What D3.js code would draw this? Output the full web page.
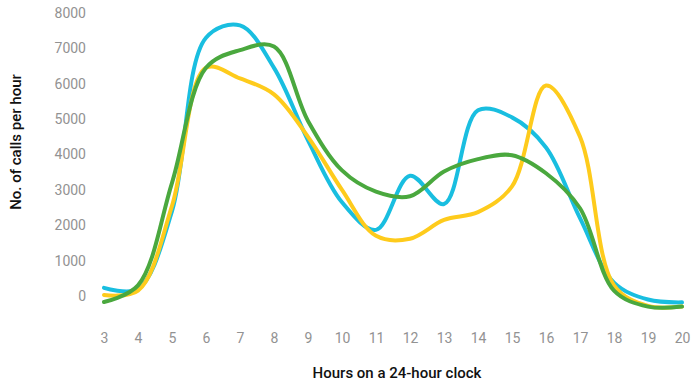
<!DOCTYPE html>
<html><head><meta charset="utf-8">
<script src="https://cdn.jsdelivr.net/npm/d3@7"></script>
<style>body{margin:0;background:#fff}svg{display:block}</style>
</head><body>
<svg id="c" width="691" height="383"></svg>
<script>
const hours = [3,4,5,6,7,8,9,10,11,12,13,14,15,16,17,18,19,20];
const cyanSeries   = [230, 200, 2400, 7300, 7650, 6450, 4400, 2650, 1870, 3400, 2600, 5250, 5050, 4200, 2200, 380, -100, -180];
const greenSeries  = [-170, 300, 3200, 6450, 6950, 7050, 4950, 3550, 2950, 2820, 3520, 3870, 3980, 3470, 2480, 150, -300, -300];
const yellowSeries = [30, 150, 2550, 6450, 6150, 5700, 4500, 3000, 1700, 1620, 2150, 2370, 3100, 5950, 4500, 300, -280, -300];
const yTicks = [0,1000,2000,3000,4000,5000,6000,7000,8000];
const seriesList = [
  {name:"cyan", values: cyanSeries, color:"#19bee0"},
  {name:"yellow", values: yellowSeries, color:"#fecb1c"},
  {name:"green", values: greenSeries, color:"#4aa83e"}
];

const svg = d3.select("#c");
const x = d3.scaleLinear().domain([3,20]).range([104,682]);
const y = d3.scaleLinear().domain([0,8000]).range([296,13]);
const font = "Roboto, 'Liberation Sans', sans-serif";

const yAxis = d3.axisLeft(y).tickValues(yTicks).tickSize(0).tickPadding(0).tickFormat(d3.format("d"));
const gy = svg.append("g").attr("transform","translate(86,0)").call(yAxis);
gy.select(".domain").remove();
gy.selectAll("text").attr("fill","#929292").style("font-family",font).style("font-size","14px");

const xAxis = d3.axisBottom(x).tickValues(hours).tickSize(0).tickPadding(0).tickFormat(d3.format("d"));
const gx = svg.append("g").attr("transform","translate(0,333)").call(xAxis);
gx.select(".domain").remove();
gx.selectAll("text").attr("fill","#929292").style("font-family",font).style("font-size","14px");

const line = d3.line().x((d,i)=>x(hours[i])).y(d=>y(d)).curve(d3.curveCatmullRom.alpha(0.5));
svg.append("g").selectAll("path").data(seriesList).join("path")
  .attr("d", s=>line(s.values)).attr("fill","none").attr("stroke",s=>s.color)
  .attr("stroke-width",4).attr("stroke-linecap","round").attr("stroke-linejoin","round");

svg.append("text").attr("x",397).attr("y",378).attr("text-anchor","middle")
  .style("font-family",font).style("font-size","15px").style("font-weight","500").attr("fill","#111")
  .text("Hours on a 24-hour clock");
svg.append("text").attr("transform","translate(21,142) rotate(-90)").attr("text-anchor","middle")
  .style("font-family",font).style("font-size","15px").style("font-weight","500").attr("fill","#111")
  .text("No. of calls per hour");
</script>
</body></html>
